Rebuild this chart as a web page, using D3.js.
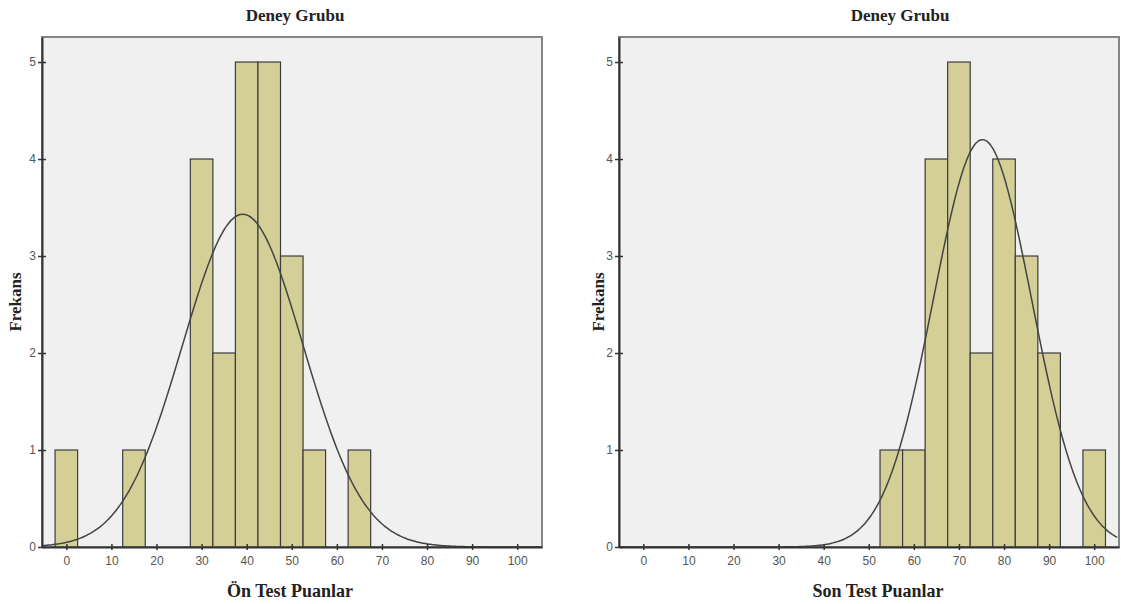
<!DOCTYPE html>
<html>
<head>
<meta charset="utf-8">
<script src="https://cdn.jsdelivr.net/npm/d3@7"></script>
<style>
  body { margin: 0; background: #fff; }
  .tick text { font-family: "Liberation Sans", Arial, sans-serif; font-size: 12px; fill: #555; }
  .ttl { font-family: "Liberation Serif", "Times New Roman", serif; font-weight: bold; fill: #222; }
</style>
</head>
<body>
<div id="chart"></div>
<script>
// Histogram data (bin width 5, bins centred on multiples of 5)
var onTestBins = [0, 15, 30, 35, 40, 45, 50, 55, 65];
var onTestFreq = [1, 1, 4, 2, 5, 5, 3, 1, 1];
var sonTestBins = [55, 60, 65, 70, 75, 80, 85, 90, 100];
var sonTestFreq = [1, 1, 4, 5, 2, 4, 3, 2, 1];

// fitted normal curve (mean, sd, N)
var onTestCurve = [39.13, 13.37, 23];
var sonTestCurve = [75.22, 10.92, 23];

var xTicks = [0, 10, 20, 30, 40, 50, 60, 70, 80, 90, 100];
var yTicks = [0, 1, 2, 3, 4, 5];
var titles = ["Deney Grubu", "Deney Grubu"];
var xLabels = ["Ön Test Puanlar", "Son Test Puanlar"];
var yLabel = "Frekans";

var svgWidth = 1121;
var svgHeight = 604;
var binWidth = 5;

var svg = d3.select("#chart")
  .append("svg")
  .attr("width", svgWidth)
  .attr("height", svgHeight);

function drawPanel(left, bins, freq, curve, title, xLabel, titleX, xLabelX, yLabelX) {
  var top = 37, width = 500, height = 510;

  var g = svg.append("g")
    .attr("transform", `translate(${left}, ${top})`);

  var x = d3.scaleLinear().domain([-5.4, 105.5]).range([0, width]);
  var y = d3.scaleLinear().domain([0, 5.258]).range([height, 0]);

  // plot background + frame
  g.append("rect")
    .attr("width", width).attr("height", height)
    .attr("fill", "#f0f0f0")
    .attr("stroke", "#858585").attr("stroke-width", 2);

  var clipId = "clip" + left;
  g.append("clipPath").attr("id", clipId)
    .append("rect").attr("width", width).attr("height", height);

  var data = bins.map((b, i) => ({ c: b, f: freq[i] }));

  g.selectAll(".bar")
    .data(data)
    .enter().append("rect")
    .attr("class", "bar")
    .attr("x", d => x(d.c - binWidth / 2))
    .attr("width", d => x(d.c + binWidth / 2) - x(d.c - binWidth / 2))
    .attr("y", d => y(d.f))
    .attr("height", d => y(0) - y(d.f))
    .attr("fill", "#d4cf97")
    .attr("stroke", "#3c3c3c")
    .attr("stroke-width", 1.2);

  // normal curve
  var mean = curve[0], sd = curve[1], n = curve[2];
  var pts = d3.range(-5.4, 105.6, 0.5).map(v => [v,
    n * binWidth / (sd * Math.sqrt(2 * Math.PI)) * Math.exp(-0.5 * Math.pow((v - mean) / sd, 2))]);
  g.append("path")
    .datum(pts)
    .attr("clip-path", `url(#${clipId})`)
    .attr("fill", "none")
    .attr("stroke", "#444")
    .attr("stroke-width", 1.5)
    .attr("d", d3.line().x(d => x(d[0])).y(d => y(d[1])).curve(d3.curveBasis));

  // axes
  var bottomAxis = d3.axisBottom(x).tickValues(xTicks).tickSize(3).tickSizeOuter(0).tickPadding(6);
  var leftAxis = d3.axisLeft(y).tickValues(yTicks).tickFormat(d3.format("d"))
    .tickSize(4).tickSizeOuter(0).tickPadding(2);

  var xa = g.append("g")
    .attr("transform", `translate(0, ${height})`)
    .call(bottomAxis);
  xa.select(".domain").attr("stroke", "#333").attr("stroke-width", 2);
  xa.selectAll(".tick line").attr("stroke", "#333").attr("stroke-width", 1.5).attr("y1", -3);

  var ya = g.append("g").call(leftAxis);
  ya.select(".domain").attr("stroke", "#333").attr("stroke-width", 2);
  ya.selectAll(".tick line").attr("stroke", "#333").attr("stroke-width", 1.5).attr("x1", 4);

  svg.append("text")
    .attr("class", "ttl")
    .attr("x", titleX).attr("y", 21)
    .attr("text-anchor", "middle")
    .style("font-size", "17px")
    .text(title);

  svg.append("text")
    .attr("class", "ttl")
    .attr("x", xLabelX).attr("y", 597)
    .attr("text-anchor", "middle")
    .style("font-size", "18px")
    .text(xLabel);

  svg.append("text")
    .attr("class", "ttl")
    .attr("transform", `translate(${yLabelX}, 302) rotate(-90)`)
    .attr("text-anchor", "middle")
    .style("font-size", "17px")
    .text(yLabel);
}

drawPanel(42, onTestBins, onTestFreq, onTestCurve, titles[0], xLabels[0], 295, 290, 21);
drawPanel(619, sonTestBins, sonTestFreq, sonTestCurve, titles[1], xLabels[1], 900, 878, 604);
</script>
</body>
</html>
